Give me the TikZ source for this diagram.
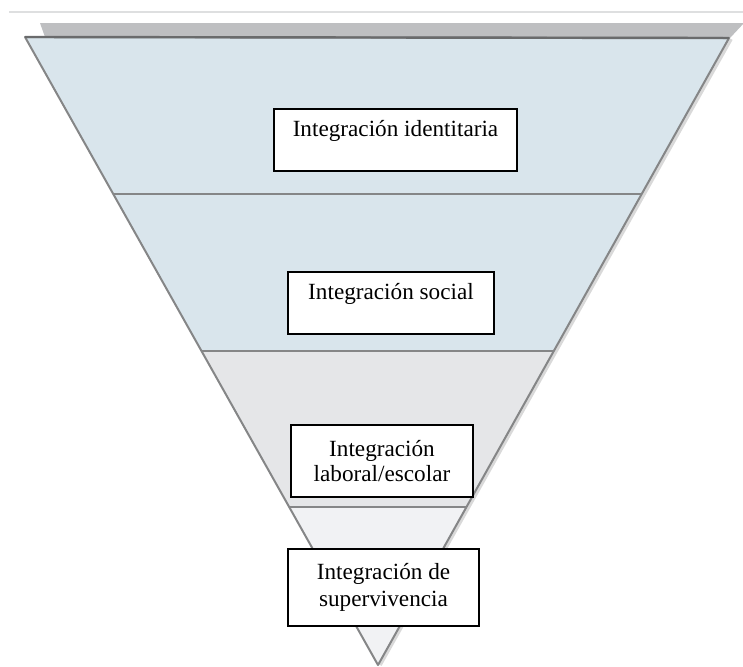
\documentclass[tikz,border=0pt]{standalone}
\usepackage{fontspec}
\setmainfont{Liberation Serif}
\definecolor{layerblue}{HTML}{D9E5EC}
\definecolor{layergray}{HTML}{E5E6E8}
\definecolor{layerpale}{HTML}{F1F2F4}
\definecolor{backgray}{HTML}{BEBFC1}
\definecolor{edgegray}{HTML}{858687}
\definecolor{rulegray}{HTML}{DEDFE0}

\begin{document}
\begin{tikzpicture}
      [ x=0.5pt, y=-0.5pt
      , layer/.style={draw=edgegray, line width=1pt}
      , levelbox/.style={draw=black, line width=1.3pt, fill=white, align=center,
          inner sep=0pt, font=\fontsize{11.6}{12.5}\selectfont}
      , oneline/.style={levelbox, minimum height=31pt, text height=7pt, text depth=11pt}
      ]
    \useasboundingbox (0,0) rectangle (743,666);
    \draw[rulegray, line width=0.7pt] (9,12) -- (743,12);

    \coordinate (TL) at (25,37);
    \coordinate (TR) at (729,38);
    \coordinate (A) at (378,665);

    % layer behind the front triangle, seen only at the top
    \fill[backgray] (40,23) -- (744,23) -- ([shift={(1,0)}]TR) -- ([shift={(20,0)}]TL) -- cycle;
    \draw[black!15, line width=1.8pt] ([shift={(2,1)}]TR) -- ([shift={(2,0)}]A);

    \begin{scope}
      \clip (TL) -- (TR) -- (A) -- cycle;
      \fill[layerblue] (0,30) rectangle (743,351);
      \fill[layergray] (0,351) rectangle (743,507);
      \fill[layerpale] (0,507) rectangle (743,670);
      \draw[layer] (0,194) -- (743,194)
                   (0,351) -- (743,351)
                   (0,507) -- (743,507);
    \end{scope}
    \draw[layer, line join=round] (TL) -- (TR) -- (A) -- cycle;
    \draw[edgegray!80!black, line width=1.2pt] (TL) -- (TR);

    \node[oneline, minimum width=121.5pt] (ident) at (395.5,140) {Integración identitaria};
    \node[oneline, minimum width=103pt] (social) at (391,303) {Integración social};
    \node[levelbox, minimum width=91pt, minimum height=36pt] (labor) at (382,461)
      {Integración\\laboral/escolar};
    \node[levelbox, minimum width=95.5pt, minimum height=38.5pt,
      font=\fontsize{11.6}{13.5}\selectfont] (superv) at (383.5,587.5)
      {Integración de\\supervivencia};
\end{tikzpicture}
\end{document}
